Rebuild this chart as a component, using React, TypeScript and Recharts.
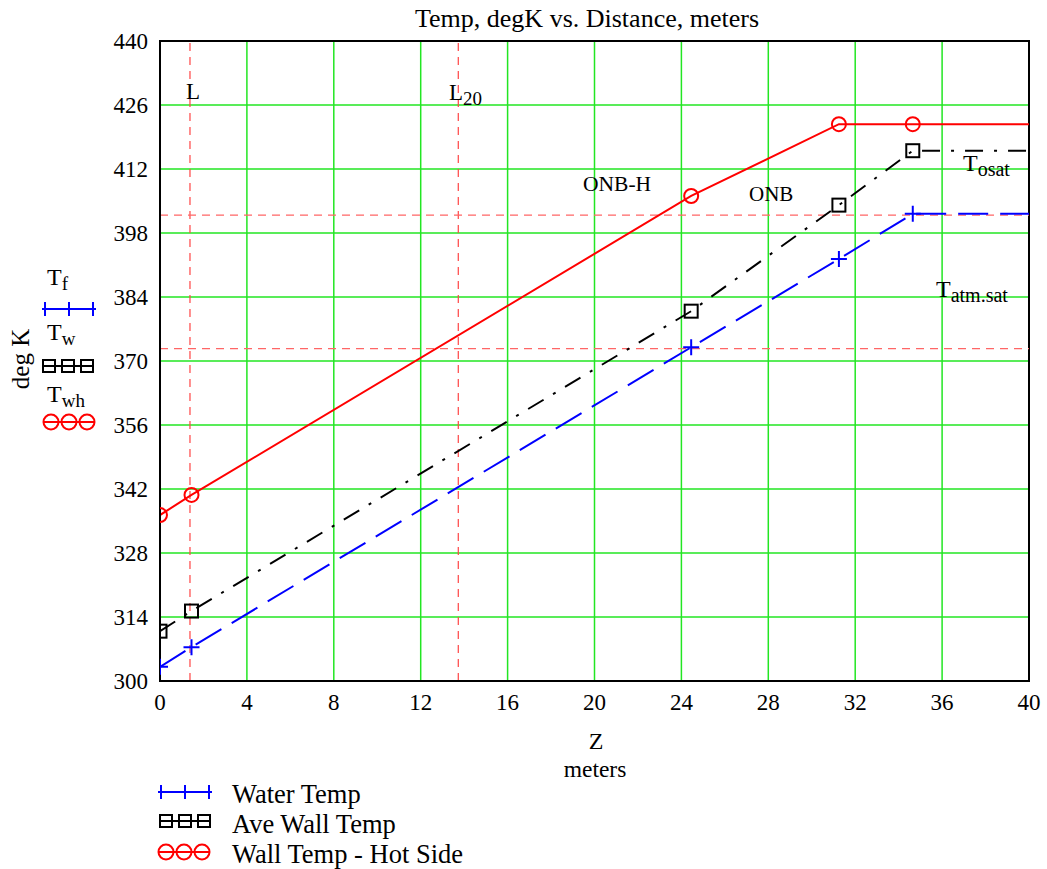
import React from "react";
import {
  LineChart,
  Line,
  XAxis,
  YAxis,
  CartesianGrid,
  ReferenceLine,
  ReferenceArea,
} from "recharts";

// distance along channel, meters
const zPos = [0, 1.45, 24.45, 31.25, 34.65, 40];
// temperatures, deg K
const waterTemp = [303.1, 307.4, 373.0, 392.3, 402.2, 402.2];
const aveWallTemp = [310.9, 315.3, 380.9, 404.1, 416.0, 416.0];
const hotWallTemp = [336.3, 340.7, 406.1, 421.8, 421.8, 421.8];

const xTicks = [0, 4, 8, 12, 16, 20, 24, 28, 32, 36, 40];
const yTicks = [300, 314, 328, 342, 356, 370, 384, 398, 412, 426, 440];

// marker lines
const lengthL = 1.38;
const lengthL20 = 13.73;
const tOsatLine = 401.9;
const tAtmSatLine = 372.7;

const FONT = "'Liberation Serif', 'Times New Roman', serif";
const BLUE = "#0000ff";
const RED = "#ff0000";
const GRID = "#22e622";

const data = zPos.map((z, i) => ({
  z,
  tf: waterTemp[i],
  tw: aveWallTemp[i],
  twh: hotWallTemp[i],
}));

const lastIdx = zPos.length - 1;

const crossDot = (p: any) => {
  const { cx, cy, index } = p;
  if (index === lastIdx || cx == null) return <g key={`tf-${index}`} />;
  return (
    <path
      key={`tf-${index}`}
      d={`M${cx - 8},${cy}H${cx + 8}M${cx},${cy - 8}V${cy + 8}`}
      stroke={BLUE}
      strokeWidth={2}
      fill="none"
    />
  );
};

const squareDot = (p: any) => {
  const { cx, cy, index } = p;
  if (index === lastIdx || cx == null) return <g key={`tw-${index}`} />;
  return (
    <rect
      key={`tw-${index}`}
      x={cx - 6.5}
      y={cy - 6.5}
      width={13}
      height={13}
      stroke="#000"
      strokeWidth={2}
      fill="none"
    />
  );
};

const circleDot = (p: any) => {
  const { cx, cy, index } = p;
  if (index === lastIdx || cx == null) return <g key={`twh-${index}`} />;
  return (
    <circle
      key={`twh-${index}`}
      cx={cx}
      cy={cy}
      r={7}
      stroke={RED}
      strokeWidth={2}
      fill="none"
    />
  );
};

function Crosses({ x0, x1, y }: { x0: number; x1: number; y: number }) {
  const mid = (x0 + x1) / 2;
  return (
    <g stroke={BLUE} strokeWidth={2}>
      <line x1={x0} y1={y} x2={x1} y2={y} />
      {[x0 + 3, mid, x1 - 3].map((x) => (
        <line key={x} x1={x} y1={y - 7} x2={x} y2={y + 7} />
      ))}
    </g>
  );
}

function Squares({ x0, y }: { x0: number; y: number }) {
  return (
    <g stroke="#000" strokeWidth={2} fill="none">
      <line x1={x0} y1={y} x2={x0 + 50} y2={y} />
      {[0, 19, 38].map((d) => (
        <rect key={d} x={x0 + d} y={y - 6} width={12} height={12} />
      ))}
    </g>
  );
}

function Circles({ x0, y }: { x0: number; y: number }) {
  return (
    <g stroke={RED} strokeWidth={2} fill="none">
      <line x1={x0} y1={y} x2={x0 + 52} y2={y} />
      {[8, 26, 44].map((d) => (
        <circle key={d} cx={x0 + d} cy={y} r={7.5} />
      ))}
    </g>
  );
}

export default function App() {
  return (
    <div style={{ position: "absolute", left: 0, top: 0, width: 1047, height: 869, background: "#fff" }}>
      <LineChart
        width={1047}
        height={869}
        data={data}
        margin={{ top: 41, right: 18, bottom: 158, left: 100 }}
      >
        <CartesianGrid stroke={GRID} strokeWidth={1.5} />
        <XAxis
          dataKey="z"
          type="number"
          domain={[0, 40]}
          ticks={xTicks}
          height={30}
          tickSize={0}
          tickMargin={13}
          axisLine={{ stroke: "#000", strokeWidth: 2 }}
          tick={{ fill: "#000", fontSize: 23, fontFamily: FONT }}
          allowDataOverflow
        />
        <YAxis
          type="number"
          domain={[300, 440]}
          ticks={yTicks}
          width={60}
          tickSize={0}
          tickMargin={12}
          axisLine={{ stroke: "#000", strokeWidth: 2 }}
          tick={{ fill: "#000", fontSize: 23, fontFamily: FONT }}
          allowDataOverflow
        />
        <ReferenceLine x={lengthL} stroke="#ff4444" strokeDasharray="8 6" strokeWidth={1.2} />
        <ReferenceLine x={lengthL20} stroke="#ff4444" strokeDasharray="8 6" strokeWidth={1.2} />
        <ReferenceLine y={tOsatLine} stroke="#ff6666" strokeDasharray="8 6" strokeWidth={1.2} />
        <ReferenceLine y={tAtmSatLine} stroke="#ff6666" strokeDasharray="8 6" strokeWidth={1.2} />
        <ReferenceArea x1={0} x2={40} y1={300} y2={440} fill="none" stroke="#000" strokeWidth={2} />
        <Line
          type="linear"
          dataKey="tf"
          stroke={BLUE}
          strokeWidth={2}
          strokeDasharray="30 12"
          dot={crossDot}
          isAnimationActive={false}
        />
        <Line
          type="linear"
          dataKey="tw"
          stroke="#000"
          strokeWidth={2}
          strokeDasharray="18 11 3 11"
          dot={squareDot}
          isAnimationActive={false}
        />
        <Line
          type="linear"
          dataKey="twh"
          stroke={RED}
          strokeWidth={2}
          dot={circleDot}
          isAnimationActive={false}
        />
      </LineChart>

      <svg
        width={1047}
        height={869}
        style={{ position: "absolute", left: 0, top: 0, pointerEvents: "none" }}
        fontFamily={FONT}
        fill="#000"
      >
        <text x={587} y={27} fontSize={26} textAnchor="middle">
          Temp, degK vs. Distance, meters
        </text>

        {/* axis titles */}
        <text x={596} y={749} fontSize={24} textAnchor="middle">Z</text>
        <text x={595} y={777} fontSize={23.5} textAnchor="middle">meters</text>
        <text x={0} y={0} fontSize={25} textAnchor="middle" transform="translate(29,359) rotate(-90)">
          deg K
        </text>

        {/* side legend */}
        <text x={47} y={285} fontSize={24}>T<tspan fontSize={19} dy={5}>f</tspan></text>
        <Crosses x0={42} x1={96} y={309} />
        <text x={47} y={340} fontSize={24}>T<tspan fontSize={19} dy={5}>w</tspan></text>
        <Squares x0={43} y={366} />
        <text x={47} y={402} fontSize={24}>T<tspan fontSize={19} dy={5}>wh</tspan></text>
        <Circles x0={43} y={422} />

        {/* annotations */}
        <text x={186} y={99} fontSize={23}>L</text>
        <text x={449} y={100} fontSize={23}>L<tspan fontSize={19} dy={5}>20</tspan></text>
        <text x={583} y={191} fontSize={21.5}>ONB-H</text>
        <text x={749} y={201} fontSize={21}>ONB</text>
        <text x={963} y={171} fontSize={24}>T<tspan fontSize={20} dy={5}>osat</tspan></text>
        <text x={936} y={297} fontSize={24}>T<tspan fontSize={20} dy={5}>atm.sat</tspan></text>

        {/* bottom legend */}
        <Crosses x0={158} x1={212} y={792} />
        <text x={232} y={803} fontSize={26.5}>Water Temp</text>
        <Squares x0={160} y={821} />
        <text x={232} y={833} fontSize={26.5}>Ave Wall Temp</text>
        <Circles x0={158} y={852} />
        <text x={232} y={863} fontSize={26.5}>Wall Temp - Hot Side</text>
      </svg>
    </div>
  );
}
